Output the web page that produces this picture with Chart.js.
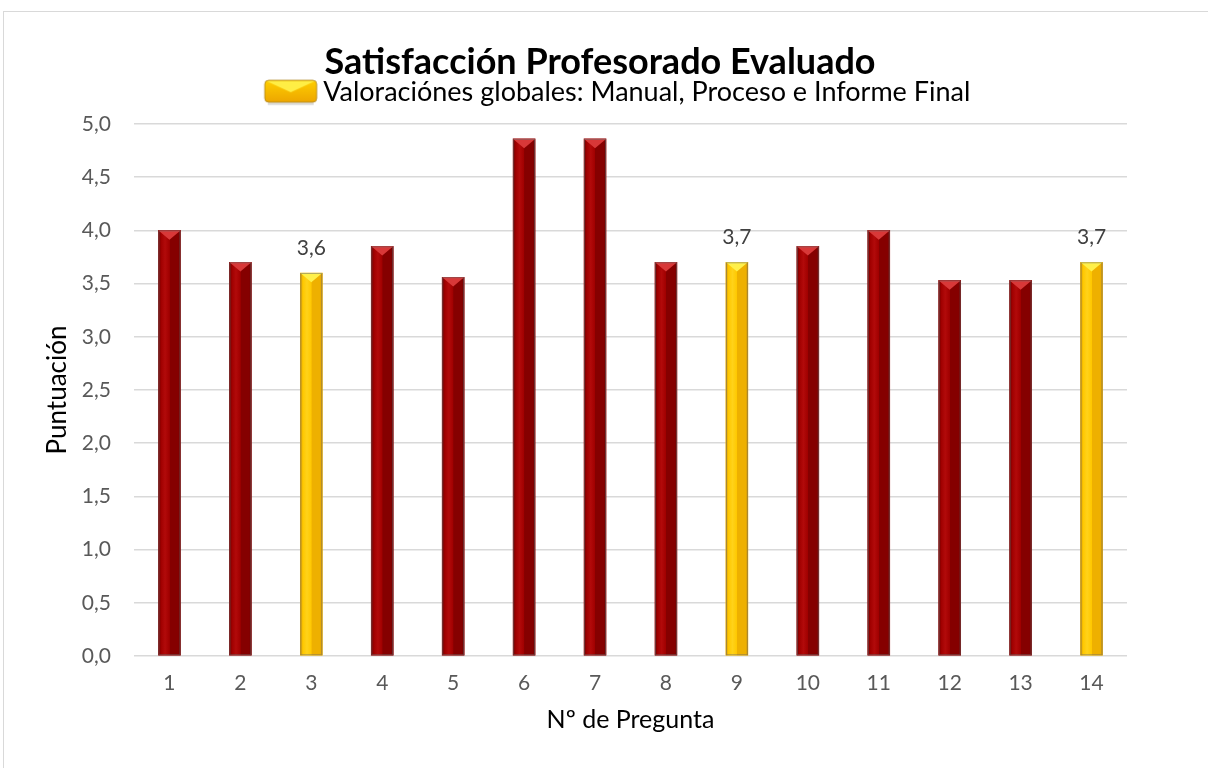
<!DOCTYPE html>
<html><head><meta charset="utf-8">
<script src="https://cdn.jsdelivr.net/npm/chart.js@4/dist/chart.umd.min.js"></script>
<style>
html,body{margin:0;padding:0;background:#fff;overflow:hidden;width:1208px;height:768px}
#frame{position:absolute;left:3px;top:11px;width:1400px;height:900px;border:1px solid #d9d9d9;box-sizing:border-box}
canvas{position:absolute;left:0;top:0}
</style></head><body>
<div id="frame"></div>
<canvas id="c" width="1208" height="768"></canvas>
<script>
const categories = ['1','2','3','4','5','6','7','8','9','10','11','12','13','14'];
const preguntaValues = [4.0, 3.7, null, 3.85, 3.56, 4.86, 4.86, 3.7, null, 3.85, 4.0, 3.53, 3.53, null];
const globalValues   = [null, null, 3.6, null, null, null, null, null, 3.7, null, null, null, null, 3.7];
const titleText = 'Satisfacción Profesorado Evaluado';
const legendText = 'Valoraciónes globales: Manual, Proceso e Informe Final';
const xTitle = 'Nº de Pregunta';
const yTitle = 'Puntuación';

const FONT = 'Lato, "Open Sans", sans-serif';
const fmt = v => v.toFixed(1).replace('.', ',');

const palettes = {
  red:    {left:'#a00000', mid:'#b20a0a', right:'#850000', edge:'#6a0000', cap:'#d83838'},
  yellow: {left:'#ffc800', mid:'#ffd21a', right:'#eeb000', edge:'#d89a00', cap:'#fff04a'}
};

function makeIcon(){
  const W = 100, H = 28;
  const c = document.createElement('canvas');
  c.width = W; c.height = H;
  const g = c.getContext('2d');
  const x0 = 45, x1 = 97, y0 = 2, y1 = 24, r = 4;
  g.fillStyle = 'rgba(0,0,0,0.12)';
  g.fillRect(x0 + 3, y1, x1 - x0 - 6, 3);
  g.beginPath();
  g.moveTo(x0 + r, y0); g.lineTo(x1 - r, y0); g.quadraticCurveTo(x1, y0, x1, y0 + r);
  g.lineTo(x1, y1 - r); g.quadraticCurveTo(x1, y1, x1 - r, y1);
  g.lineTo(x0 + r, y1); g.quadraticCurveTo(x0, y1, x0, y1 - r);
  g.lineTo(x0, y0 + r); g.quadraticCurveTo(x0, y0, x0 + r, y0); g.closePath();
  const gr = g.createLinearGradient(0, y0, 0, y1);
  gr.addColorStop(0, '#ffcf00'); gr.addColorStop(1, '#eda600');
  g.fillStyle = gr; g.fill();
  g.strokeStyle = 'rgba(170,130,30,0.8)'; g.lineWidth = 1; g.stroke();
  g.beginPath(); g.moveTo(x0 + 2, y0 + 1); g.lineTo(x1 - 2, y0 + 1); g.lineTo((x0 + x1) / 2, y0 + 12); g.closePath();
  g.fillStyle = '#ffee45'; g.fill();
  return c;
}
const legendIcon = makeIcon();

const bevelPlugin = {
  id: 'bevel',
  afterDatasetsDraw(chart){
    const ctx = chart.ctx;
    chart.data.datasets.forEach((ds, di) => {
      const meta = chart.getDatasetMeta(di);
      const p = palettes[ds.paletteName];
      meta.data.forEach((bar, i) => {
        if (ds.data[i] == null) return;
        const {x, y, base, width} = bar.getProps(['x','y','base','width'], true);
        const l = x - width/2, r = x + width/2;
        ctx.save();
        const g = ctx.createLinearGradient(l, 0, r, 0);
        g.addColorStop(0, p.edge);
        g.addColorStop(0.12, p.left);
        g.addColorStop(0.3, p.mid);
        g.addColorStop(0.5, p.left);
        g.addColorStop(0.52, p.right);
        g.addColorStop(0.9, p.right);
        g.addColorStop(1, p.edge);
        ctx.fillStyle = g;
        ctx.fillRect(l, y, width, base - y);
        const h = width * 0.42;
        ctx.beginPath();
        ctx.moveTo(l, y); ctx.lineTo(r, y); ctx.lineTo(x, y + h); ctx.closePath();
        ctx.fillStyle = p.cap; ctx.fill();
        ctx.strokeStyle = 'rgba(110,110,110,0.55)';
        ctx.lineWidth = 1;
        ctx.strokeRect(l + 0.5, y + 0.5, width - 1, base - y - 1);
        ctx.restore();
      });
    });
  }
};

const labelPlugin = {
  id: 'valLabels',
  afterDatasetsDraw(chart){
    const ctx = chart.ctx;
    const meta = chart.getDatasetMeta(1);
    ctx.save();
    ctx.font = '21px ' + FONT;
    ctx.fillStyle = '#404040';
    ctx.textAlign = 'center';
    ctx.textBaseline = 'middle';
    meta.data.forEach((bar, i) => {
      const v = globalValues[i];
      if (v == null) return;
      ctx.fillText(fmt(v), bar.x, bar.y - 25);
    });
    ctx.restore();
  }
};

new Chart(document.getElementById('c'), {
  type: 'bar',
  data: {
    labels: categories,
    datasets: [
      {label: 'Pregunta', data: preguntaValues, backgroundColor: '#a00000', paletteName: 'red', barThickness: 22, grouped: false},
      {label: legendText, data: globalValues, backgroundColor: '#ffc000', paletteName: 'yellow', barThickness: 22, grouped: false, pointStyle: legendIcon}
    ]
  },
  options: {
    responsive: false,
    animation: false,
    layout: {padding: {left: 73, right: 81, top: 10, bottom: 33}},
    plugins: {
      title: {display: true, text: titleText, color: '#000', font: {family: FONT, size: 36, weight: 'bold', lineHeight: 0.9}, padding: {top: 35.8, bottom: 0}},
      legend: {
        display: true,
        labels: {
          filter: item => item.datasetIndex === 1,
          usePointStyle: true, pointStyleWidth: 80,
          color: '#000', font: {family: FONT, size: 27}, padding: 0.5
        }
      },
      tooltip: {enabled: false}
    },
    scales: {
      x: {
        grid: {display: false, drawTicks: false},
        border: {display: false},
        ticks: {color: '#595959', font: {family: FONT, size: 21}, padding: 14.4},
        title: {display: true, text: xTitle, color: '#000', font: {family: FONT, size: 25}, padding: {top: -5, bottom: 0}}
      },
      xTop: {
        position: 'top', type: 'category', labels: categories,
        grid: {display: false, drawTicks: false},
        border: {display: false},
        ticks: {display: false},
        afterFit: s => { s.height = 8.3; }
      },
      y: {
        min: 0, max: 5,
        grid: {color: '#d9d9d9', lineWidth: 1.5, drawTicks: false},
        border: {display: false},
        ticks: {stepSize: 0.5, color: '#595959', font: {family: FONT, size: 21}, padding: 23, callback: v => fmt(v)},
        title: {display: true, text: yTitle, color: '#000', font: {family: FONT, size: 26}, padding: {top: -30.6, bottom: 0}},
        afterFit: s => { s.width = 61; }
      }
    }
  },
  plugins: [bevelPlugin, labelPlugin]
});
</script>
</body></html>
